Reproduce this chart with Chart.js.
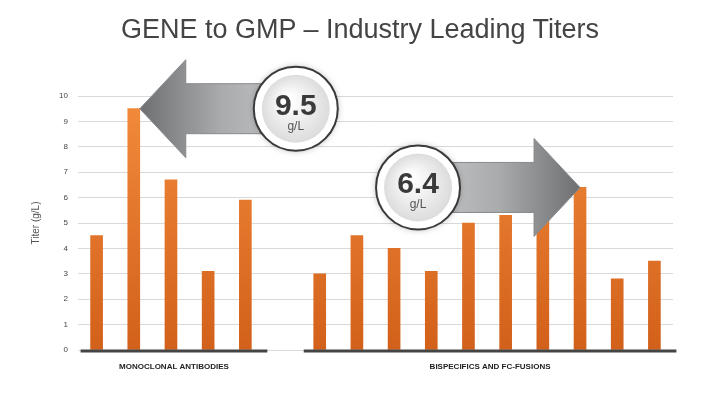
<!DOCTYPE html>
<html><head><meta charset="utf-8">
<script src="https://cdn.jsdelivr.net/npm/chart.js@4"></script>
<style>
html,body{margin:0;padding:0;background:#fff;width:720px;height:405px;overflow:hidden;font-family:"Liberation Sans",Arial,sans-serif}
#t{position:absolute;left:0;top:14px;width:720px;text-align:center;font-size:27px;color:#444}
#w{position:absolute;left:0;top:0;width:720px;height:405px}
</style></head><body>
<div id="w"><canvas id="c"></canvas></div>
<div id="t">GENE to GMP – Industry Leading Titers</div>
<script>
const categories=["m1","m2","m3","m4","m5","","b1","b2","b3","b4","b5","b6","b7","b8","b9","b10"];
const mabValues=[4.5,9.5,6.7,3.1,5.9];
const bispecValues=[3.0,4.5,4.0,3.1,5.0,5.3,5.5,6.4,2.8,3.5];
const groupLabels=["MONOCLONAL ANTIBODIES","BISPECIFICS AND FC-FUSIONS"];
const yTicks=[0,1,2,3,4,5,6,7,8,9,10];
const callouts=[{idx:1,text:"9.5",dir:-1},{idx:13,text:"6.4",dir:1}];
const values=[...mabValues,null,...bispecValues];

function arrow(ctx,tipX,tipY,dir,len,headLen,bodyH,headH){
  const bx=tipX-dir*headLen, ex=tipX-dir*len;
  ctx.beginPath();
  ctx.moveTo(tipX,tipY);
  ctx.lineTo(bx,tipY-headH/2);ctx.lineTo(bx,tipY-bodyH/2);
  ctx.lineTo(ex,tipY-bodyH/2);ctx.lineTo(ex,tipY+bodyH/2);
  ctx.lineTo(bx,tipY+bodyH/2);ctx.lineTo(bx,tipY+headH/2);ctx.closePath();
  const g=ctx.createLinearGradient(ex,0,tipX,0);
  g.addColorStop(0,"#c8c9cb");g.addColorStop(0.5,"#a9aaac");g.addColorStop(1,"#6e6f71");
  ctx.fillStyle=g;ctx.fill();
  ctx.strokeStyle="#8a8b8d";ctx.lineWidth=1;ctx.stroke();
}
function bubble(ctx,x,y,txt){
  ctx.save();
  ctx.shadowColor="rgba(0,0,0,0.3)";ctx.shadowBlur=6;
  ctx.beginPath();ctx.arc(x,y,42,0,Math.PI*2);ctx.fillStyle="#fff";ctx.fill();
  ctx.restore();
  ctx.beginPath();ctx.arc(x,y,42,0,Math.PI*2);ctx.strokeStyle="#3a3a3a";ctx.lineWidth=2;ctx.stroke();
  const g=ctx.createRadialGradient(x-8,y-10,4,x,y,34);
  g.addColorStop(0,"#ffffff");g.addColorStop(1,"#dcdcdc");
  ctx.beginPath();ctx.arc(x,y,34,0,Math.PI*2);ctx.fillStyle=g;ctx.fill();
  ctx.fillStyle="#3a3a3a";ctx.textAlign="center";ctx.textBaseline="alphabetic";
  ctx.font="bold 30px 'Liberation Sans',Arial";ctx.fillText(txt,x,y+6);
  ctx.font="12px 'Liberation Sans',Arial";ctx.fillStyle="#555";ctx.fillText("g/L",x,y+21);
}
const deco={id:"deco",afterDatasetsDraw(chart){
  const ctx=chart.ctx,xs=chart.scales.x,ys=chart.scales.y;const y0=ys.getPixelForValue(0);
  ctx.save();
  ctx.strokeStyle="#444";ctx.lineWidth=3;
  const seg=[[0,4],[6,15]];
  seg.forEach((s,i)=>{
    const a=xs.getPixelForValue(s[0])-16,b=xs.getPixelForValue(s[1])+22;
    ctx.beginPath();ctx.moveTo(a,y0+1);ctx.lineTo(b,y0+1);ctx.stroke();
    ctx.fillStyle="#222";ctx.font="bold 8px 'Liberation Sans',Arial";ctx.textAlign="center";
    ctx.fillText(groupLabels[i],(a+b)/2,y0+19);
  });
  callouts.forEach(c=>{
    const ty=ys.getPixelForValue(values[c.idx]);
    const px=xs.getPixelForValue(c.idx);
    arrow(ctx,c.dir<0?px+6:px,ty,c.dir,160,46,50,98);
    bubble(ctx,c.dir<0?px+162:px-162,ty,c.text);
  });
  ctx.restore();
}};
new Chart(document.getElementById("c"),{
  type:"bar",
  data:{labels:categories,datasets:[{data:values,barThickness:12,
    backgroundColor:(ctx)=>{const a=ctx.chart.chartArea;if(!a)return"#e87a2a";
      const g=ctx.chart.ctx.createLinearGradient(0,a.top,0,a.bottom);
      g.addColorStop(0,"#f28c3c");g.addColorStop(1,"#d2601a");return g;}}]},
  options:{responsive:true,maintainAspectRatio:false,animation:false,
    layout:{padding:{top:96,bottom:47,right:47,left:26}},
    plugins:{legend:{display:false},tooltip:{enabled:false}},
    scales:{
      x:{grid:{display:false},border:{display:false},ticks:{display:false}},
      y:{min:0,max:10,afterBuildTicks:(s)=>{s.ticks=yTicks.map(v=>({value:v}));},
        afterFit:(s)=>{s.width=52;},
        grid:{color:"#d9d9d9",drawTicks:false},border:{display:false},
        ticks:{color:"#444",font:{size:8,family:"Liberation Sans"},padding:10},
        title:{display:true,text:"Titer (g/L)",color:"#555",font:{size:10,family:"Liberation Sans"}}}
    }},
  plugins:[deco]
});
</script></body></html>
